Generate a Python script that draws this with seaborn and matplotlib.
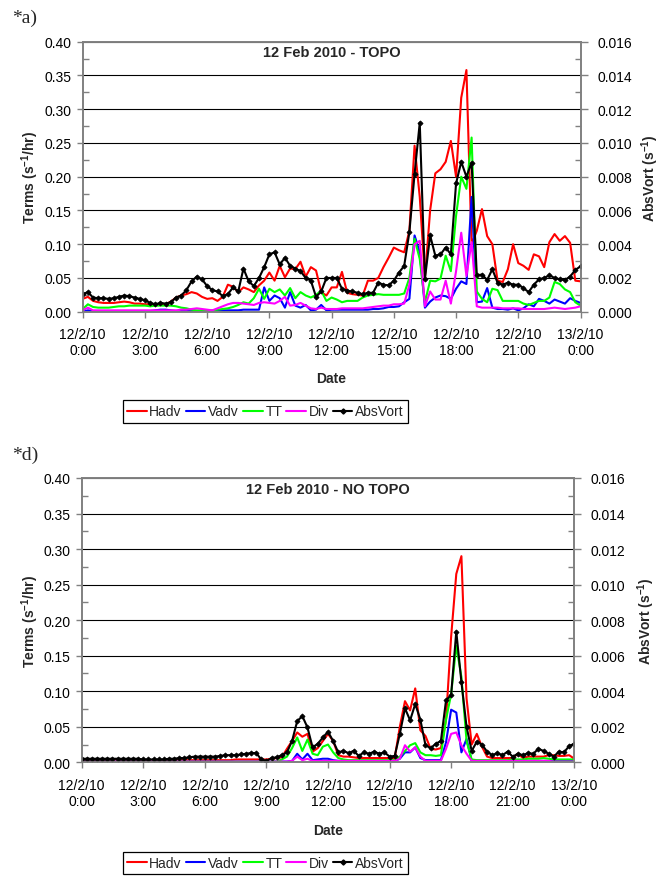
import numpy as np
import pandas as pd
import matplotlib
matplotlib.use("Agg")
import matplotlib.pyplot as plt
import matplotlib.ticker as mticker
from matplotlib.lines import Line2D
import seaborn as sns

# ── Style ──────────────────────────────────────────────────────────────────────
sns.set_theme(style="white")
plt.rcParams["font.family"] = ["Liberation Sans", "DejaVu Sans"]
plt.rcParams["mathtext.fontset"] = "custom"
plt.rcParams["mathtext.rm"] = "Liberation Sans"
plt.rcParams["mathtext.bf"] = "Liberation Sans:bold"

# ── Data (15-minute steps, 12 Feb 2010 0:00 -> 13 Feb 2010 0:00) ──────────────
HOURS = np.arange(0, 24.01, 0.25)
TICK_HOURS = [0, 3, 6, 9, 12, 15, 18, 21, 24]
TICK_LABELS = ["12/2/10\n0:00", "12/2/10\n3:00", "12/2/10\n6:00", "12/2/10\n9:00",
               "12/2/10\n12:00", "12/2/10\n15:00", "12/2/10\n18:00",
               "12/2/10\n21:00", "13/2/10\n0:00"]
TERMS = ["Hadv", "Vadv", "TT", "Div"]
COLORS = {"Hadv": "#ff0000", "Vadv": "#0000ff", "TT": "#00ff00", "Div": "#ff00ff"}

# Panel a) TOPO, terms in s-1/hr
hadv_topo = [
    0.019, 0.022, 0.016, 0.014, 0.013, 0.013, 0.013, 0.014, 0.015, 0.014, 0.012, 0.012,
    0.011, 0.011, 0.010, 0.010, 0.011, 0.015, 0.021, 0.024, 0.026, 0.029, 0.027, 0.022,
    0.019, 0.020, 0.016, 0.022, 0.040, 0.037, 0.029, 0.036, 0.033, 0.029, 0.039, 0.046,
    0.058, 0.046, 0.068, 0.051, 0.064, 0.063, 0.074, 0.052, 0.066, 0.061, 0.029, 0.024,
    0.036, 0.036, 0.059, 0.028, 0.026, 0.025, 0.024, 0.046, 0.046, 0.050, 0.066, 0.080,
    0.095, 0.091, 0.088, 0.120, 0.246, 0.170, 0.050, 0.150, 0.205, 0.211, 0.222, 0.253,
    0.200, 0.317, 0.358, 0.100, 0.120, 0.152, 0.112, 0.100, 0.046, 0.044, 0.063, 0.100,
    0.072, 0.068, 0.062, 0.085, 0.082, 0.066, 0.103, 0.115, 0.105, 0.112, 0.102, 0.046,
    0.045]
vadv_topo = [
    0.000, 0.002, 0.001, 0.001, 0.001, 0.001, 0.001, 0.001, 0.001, 0.001, 0.001, 0.001,
    0.001, 0.001, 0.002, 0.003, 0.003, 0.002, 0.001, 0.001, 0.001, 0.001, 0.001, 0.001,
    0.001, 0.001, 0.002, 0.002, 0.002, 0.002, 0.002, 0.003, 0.003, 0.003, 0.003, 0.036,
    0.016, 0.024, 0.020, 0.006, 0.029, 0.009, 0.006, 0.010, 0.002, 0.003, 0.010, 0.002,
    0.003, 0.003, 0.003, 0.003, 0.003, 0.003, 0.003, 0.003, 0.004, 0.004, 0.005, 0.007,
    0.007, 0.008, 0.014, 0.019, 0.113, 0.088, 0.006, 0.015, 0.021, 0.024, 0.023, 0.019,
    0.034, 0.045, 0.041, 0.170, 0.014, 0.015, 0.035, 0.006, 0.004, 0.004, 0.003, 0.005,
    0.002, 0.005, 0.011, 0.008, 0.019, 0.016, 0.012, 0.018, 0.015, 0.012, 0.020, 0.016,
    0.013]
tt_topo = [
    0.004, 0.011, 0.007, 0.006, 0.006, 0.006, 0.007, 0.008, 0.008, 0.009, 0.009, 0.009,
    0.009, 0.008, 0.009, 0.009, 0.009, 0.009, 0.008, 0.006, 0.005, 0.003, 0.002, 0.002,
    0.002, 0.002, 0.003, 0.004, 0.005, 0.007, 0.010, 0.014, 0.012, 0.020, 0.034, 0.019,
    0.034, 0.029, 0.033, 0.024, 0.035, 0.020, 0.029, 0.024, 0.021, 0.025, 0.031, 0.016,
    0.021, 0.018, 0.014, 0.016, 0.016, 0.016, 0.021, 0.024, 0.025, 0.026, 0.025, 0.025,
    0.025, 0.025, 0.027, 0.050, 0.108, 0.078, 0.014, 0.046, 0.045, 0.049, 0.083, 0.060,
    0.142, 0.200, 0.182, 0.258, 0.030, 0.019, 0.014, 0.034, 0.032, 0.016, 0.016, 0.016,
    0.016, 0.012, 0.010, 0.013, 0.016, 0.016, 0.021, 0.044, 0.041, 0.033, 0.029, 0.014,
    0.009]
div_topo = [
    0.002, 0.006, 0.002, 0.002, 0.002, 0.002, 0.002, 0.002, 0.002, 0.002, 0.002, 0.002,
    0.002, 0.002, 0.002, 0.002, 0.002, 0.002, 0.002, 0.003, 0.003, 0.004, 0.005, 0.004,
    0.003, 0.002, 0.005, 0.008, 0.011, 0.013, 0.013, 0.012, 0.011, 0.010, 0.013, 0.014,
    0.013, 0.012, 0.016, 0.022, 0.009, 0.010, 0.013, 0.009, 0.005, 0.004, 0.006, 0.004,
    0.004, 0.004, 0.005, 0.005, 0.005, 0.005, 0.005, 0.006, 0.007, 0.008, 0.009, 0.009,
    0.011, 0.011, 0.012, 0.040, 0.100, 0.105, 0.008, 0.030, 0.018, 0.018, 0.046, 0.012,
    0.060, 0.117, 0.053, 0.103, 0.008, 0.006, 0.006, 0.006, 0.006, 0.005, 0.005, 0.005,
    0.005, 0.004, 0.004, 0.004, 0.004, 0.004, 0.005, 0.006, 0.005, 0.004, 0.005, 0.006,
    0.008]
# AbsVort in units of 1e-3 s-1
absvort_topo = [
    1.04, 1.16, 0.84, 0.80, 0.80, 0.76, 0.80, 0.88, 0.96, 0.92, 0.84, 0.76,
    0.68, 0.52, 0.44, 0.52, 0.48, 0.56, 0.84, 0.96, 1.28, 1.80, 2.08, 1.92,
    1.52, 1.28, 1.20, 0.92, 1.04, 1.44, 1.20, 2.56, 1.80, 1.52, 2.00, 2.64,
    3.40, 3.52, 2.80, 3.20, 2.72, 2.56, 2.40, 2.00, 1.84, 0.88, 1.20, 2.00,
    2.00, 2.00, 1.36, 1.24, 1.20, 1.12, 1.04, 1.12, 1.12, 1.72, 1.60, 1.56,
    1.84, 2.32, 2.72, 4.72, 8.16, 11.20, 1.96, 4.52, 3.32, 3.40, 3.80, 3.40,
    7.60, 8.88, 8.00, 8.84, 2.16, 2.20, 1.88, 2.52, 1.72, 1.60, 1.72, 1.60,
    1.60, 1.40, 1.16, 1.60, 1.92, 2.00, 2.16, 2.00, 1.92, 1.88, 2.08, 2.48,
    2.68]

# Panel d) NO TOPO
hadv_notopo = [
    0.003, 0.003, 0.003, 0.003, 0.003, 0.003, 0.003, 0.003, 0.003, 0.003, 0.003, 0.003,
    0.003, 0.003, 0.002, 0.002, 0.003, 0.003, 0.003, 0.003, 0.003, 0.003, 0.003, 0.003,
    0.003, 0.003, 0.003, 0.003, 0.003, 0.003, 0.004, 0.004, 0.004, 0.004, 0.004, 0.004,
    0.004, 0.005, 0.006, 0.007, 0.019, 0.030, 0.042, 0.036, 0.040, 0.015, 0.020, 0.030,
    0.040, 0.030, 0.010, 0.008, 0.008, 0.007, 0.006, 0.006, 0.006, 0.006, 0.006, 0.006,
    0.006, 0.006, 0.050, 0.086, 0.073, 0.104, 0.045, 0.037, 0.019, 0.018, 0.020, 0.060,
    0.177, 0.265, 0.290, 0.090, 0.025, 0.040, 0.022, 0.008, 0.006, 0.006, 0.006, 0.006,
    0.006, 0.012, 0.006, 0.008, 0.008, 0.008, 0.008, 0.010, 0.010, 0.009, 0.009, 0.010,
    0.005]
vadv_notopo = [
    0.001, 0.001, 0.001, 0.001, 0.001, 0.001, 0.001, 0.001, 0.001, 0.001, 0.001, 0.001,
    0.001, 0.001, 0.001, 0.001, 0.001, 0.001, 0.001, 0.001, 0.001, 0.001, 0.001, 0.001,
    0.001, 0.001, 0.001, 0.001, 0.001, 0.001, 0.001, 0.001, 0.001, 0.001, 0.001, 0.001,
    0.001, 0.001, 0.001, 0.001, 0.001, 0.002, 0.012, 0.004, 0.012, 0.003, 0.004, 0.005,
    0.005, 0.003, 0.002, 0.002, 0.002, 0.002, 0.002, 0.002, 0.002, 0.002, 0.002, 0.002,
    0.002, 0.002, 0.005, 0.014, 0.014, 0.021, 0.006, 0.003, 0.003, 0.003, 0.003, 0.028,
    0.074, 0.070, 0.014, 0.033, 0.002, 0.002, 0.002, 0.002, 0.002, 0.002, 0.002, 0.002,
    0.002, 0.002, 0.002, 0.002, 0.002, 0.002, 0.002, 0.002, 0.002, 0.002, 0.002, 0.002,
    0.002]
tt_notopo = [
    0.001, 0.001, 0.001, 0.001, 0.001, 0.001, 0.001, 0.001, 0.001, 0.001, 0.001, 0.001,
    0.001, 0.001, 0.001, 0.001, 0.001, 0.001, 0.001, 0.001, 0.001, 0.001, 0.001, 0.001,
    0.001, 0.001, 0.001, 0.001, 0.001, 0.001, 0.001, 0.001, 0.001, 0.001, 0.001, 0.001,
    0.001, 0.001, 0.001, 0.004, 0.008, 0.020, 0.035, 0.016, 0.032, 0.012, 0.010, 0.022,
    0.025, 0.014, 0.006, 0.004, 0.003, 0.003, 0.003, 0.003, 0.003, 0.003, 0.003, 0.003,
    0.003, 0.003, 0.008, 0.016, 0.024, 0.027, 0.014, 0.010, 0.010, 0.009, 0.010, 0.060,
    0.096, 0.164, 0.120, 0.030, 0.004, 0.003, 0.003, 0.003, 0.003, 0.003, 0.003, 0.003,
    0.004, 0.004, 0.004, 0.005, 0.005, 0.005, 0.006, 0.005, 0.004, 0.004, 0.004, 0.004,
    0.004]
div_notopo = [
    0.001, 0.001, 0.001, 0.001, 0.001, 0.001, 0.001, 0.001, 0.001, 0.001, 0.001, 0.001,
    0.001, 0.001, 0.001, 0.001, 0.001, 0.001, 0.001, 0.001, 0.001, 0.001, 0.001, 0.001,
    0.001, 0.001, 0.001, 0.001, 0.001, 0.001, 0.001, 0.001, 0.001, 0.001, 0.001, 0.001,
    0.001, 0.001, 0.001, 0.001, 0.001, 0.002, 0.008, 0.003, 0.005, 0.002, 0.002, 0.002,
    0.002, 0.002, 0.002, 0.002, 0.002, 0.002, 0.002, 0.002, 0.002, 0.002, 0.002, 0.002,
    0.002, 0.002, 0.005, 0.024, 0.015, 0.021, 0.008, 0.002, 0.002, 0.002, 0.002, 0.019,
    0.040, 0.042, 0.024, 0.012, 0.002, 0.002, 0.002, 0.002, 0.002, 0.002, 0.002, 0.002,
    0.002, 0.002, 0.002, 0.002, 0.002, 0.002, 0.002, 0.002, 0.001, 0.001, 0.001, 0.001,
    0.001]
absvort_notopo = [
    0.20, 0.20, 0.20, 0.20, 0.20, 0.20, 0.20, 0.20, 0.20, 0.20, 0.20, 0.20,
    0.16, 0.16, 0.16, 0.16, 0.16, 0.20, 0.20, 0.24, 0.24, 0.28, 0.32, 0.32,
    0.32, 0.32, 0.32, 0.36, 0.40, 0.40, 0.40, 0.44, 0.48, 0.52, 0.52, 0.16,
    0.08, 0.24, 0.28, 0.40, 0.56, 1.20, 2.32, 2.60, 1.96, 0.84, 1.04, 1.40,
    1.72, 1.20, 0.56, 0.64, 0.52, 0.64, 0.36, 0.56, 0.48, 0.60, 0.48, 0.56,
    0.32, 0.36, 1.60, 3.04, 2.36, 3.28, 2.40, 0.96, 0.80, 1.04, 1.20, 3.48,
    3.80, 7.36, 4.52, 2.00, 0.64, 1.16, 1.00, 0.60, 0.40, 0.52, 0.40, 0.60,
    0.32, 0.48, 0.40, 0.52, 0.48, 0.76, 0.64, 0.48, 0.32, 0.60, 0.56, 0.92,
    1.04]

SPINE = "#808080"


def draw_panel(fig, rect, title, terms, absvort, tag, tag_y, leg_y, label_x):
    ax = fig.add_axes(rect)
    df = pd.DataFrame({"hours": HOURS, **dict(zip(TERMS, terms))})
    long = df.melt(id_vars="hours", var_name="term", value_name="value")
    sns.lineplot(data=long, x="hours", y="value", hue="term", hue_order=TERMS,
                 palette=COLORS, linewidth=1.5, ax=ax, legend=False)

    ax2 = ax.twinx()
    sns.lineplot(x=HOURS, y=np.array(absvort) * 1e-3, color="black", linewidth=1.5,
                 marker="D", markersize=2.6, markeredgewidth=0.6,
                 markeredgecolor="black", markerfacecolor="black", ax=ax2)

    ax.set_xlim(0, 24)
    ax.set_ylim(0, 0.40)
    ax.yaxis.set_major_locator(mticker.MultipleLocator(0.05))
    ax.yaxis.set_minor_locator(mticker.MultipleLocator(0.025))
    ax.yaxis.set_major_formatter(mticker.StrMethodFormatter("{x:.2f}"))
    ax.set_xticks(TICK_HOURS, TICK_LABELS)
    ax.grid(axis="y", which="major", color="black", linewidth=0.8)
    ax.grid(axis="x", visible=False)
    ax.set_axisbelow(True)

    ax2.set_ylim(0, 0.016)
    ax2.yaxis.set_major_locator(mticker.MultipleLocator(0.002))
    ax2.yaxis.set_minor_locator(mticker.MultipleLocator(0.001))
    ax2.yaxis.set_major_formatter(mticker.StrMethodFormatter("{x:.3f}"))

    for a in (ax, ax2):
        for sp in a.spines.values():
            sp.set_color(SPINE)
            sp.set_linewidth(1.2)

    ax.tick_params(axis="x", which="major", bottom=True, direction="out", length=4,
                   width=1, color=SPINE, pad=7, labelsize=10, labelcolor="black")
    ax.tick_params(axis="y", which="major", left=True, direction="out", length=4,
                   width=1, color=SPINE, pad=4, labelsize=10, labelcolor="black")
    ax.tick_params(axis="y", which="minor", left=True, direction="in", length=4,
                   width=1, color=SPINE)
    ax2.tick_params(axis="y", which="major", right=True, direction="out", length=5,
                    width=1, color=SPINE, pad=7, labelsize=10, labelcolor="black")
    ax2.tick_params(axis="y", which="minor", right=True, direction="in", length=4,
                    width=1, color=SPINE)

    ax.set_ylabel(r"Terms (s$^{\mathbf{-1}}$/hr)", fontweight="bold", fontsize=10)
    ax.yaxis.set_label_coords(label_x[0], 0.5)
    ax2.set_ylabel(r"AbsVort (s$^{\mathbf{-1}}$)", fontweight="bold", fontsize=10)
    ax2.yaxis.set_label_coords(label_x[1], 0.5)
    ax.set_xlabel("Date", fontweight="bold", fontsize=10)
    ax.xaxis.set_label_coords(0.5, label_x[2])

    ax.text(0.5, 0.963, title, transform=ax.transAxes, ha="center", va="center",
            fontweight="bold", fontsize=10.5)
    fig.text(12 / 662, tag_y, tag, family=["Liberation Serif", "DejaVu Serif"],
             fontsize=14, va="center", ha="left")

    handles = [Line2D([], [], color=COLORS[t], linewidth=1.5) for t in TERMS]
    handles.append(Line2D([], [], color="black", linewidth=1.5, marker="D",
                          markersize=2.6))
    leg = fig.legend(handles, TERMS + ["AbsVort"], loc="center",
                     bbox_to_anchor=(0.401, leg_y), ncol=5, frameon=True,
                     fancybox=False, edgecolor="black", framealpha=1,
                     handlelength=1.4, handletextpad=0.2, columnspacing=0.3,
                     borderpad=0.3, borderaxespad=0, fontsize=10)
    leg.get_frame().set_linewidth(0.9)
    return ax, ax2


fig = plt.figure(figsize=(6.62, 8.78), dpi=100)
fig.patch.set_facecolor("white")

draw_panel(fig, [82.7 / 662, 1 - 312.7 / 878, 497.8 / 662, 270 / 878],
           "12 Feb 2010 - TOPO",
           [hadv_topo, vadv_topo, tt_topo, div_topo], absvort_topo,
           "*a)", 1 - 18 / 878, 1 - 412.5 / 878, (-0.084, 1.118, -0.22))
draw_panel(fig, [81.7 / 662, 1 - 763.3 / 878, 492.6 / 662, 284.3 / 878],
           "12 Feb 2010 - NO TOPO",
           [hadv_notopo, vadv_notopo, tt_notopo, div_notopo], absvort_notopo,
           "*d)", 1 - 455 / 878, 1 - 864 / 878, (-0.083, 1.124, -0.213))

fig.savefig("out.png", dpi=100)
